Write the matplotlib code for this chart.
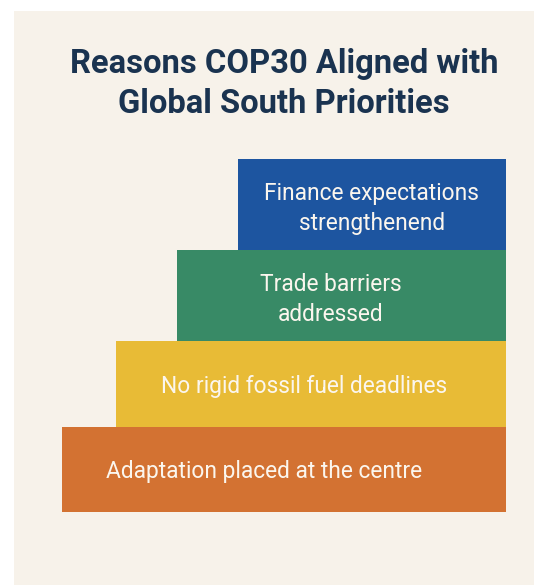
import matplotlib
matplotlib.use("Agg")
import matplotlib.pyplot as plt
from matplotlib.patches import Rectangle

# chart data (bottom step first)
labels = ["Adaptation placed at the centre",
          "No rigid fossil fuel deadlines",
          "Trade barriers\naddressed",
          "Finance expectations\nstrengthenend"]
starts = [0, 12.2, 25.9, 39.6]
ends = [100, 100, 100, 100]
colors = ["#d37232", "#e8bb36", "#388a66", "#1d55a0"]
text_x = [45.6, 54.5, 60.5, 69.8]
row_heights = [85, 86, 91, 91]

title = "Reasons COP30 Aligned with\nGlobal South Priorities"

W, H = 534, 585
fig = plt.figure(figsize=(W / 100, H / 100), dpi=100, facecolor="white")

# beige card behind everything
fig.patches.append(Rectangle((14 / W, 0), 1 - 14 / W, 1 - 11 / H,
                             transform=fig.transFigure, facecolor="#f7f2ea",
                             edgecolor="none", zorder=-5))

ax = fig.add_axes([62 / W, 73 / H, 444 / W, 353 / H])
ax.set_facecolor("none")
ax.set_zorder(2)

widths = [e - s for s, e in zip(starts, ends)]
bottoms = [sum(row_heights[:i]) for i in range(len(row_heights))]
centers = [b + h / 2 for b, h in zip(bottoms, row_heights)]
ax.barh(centers, widths, left=starts, height=row_heights, color=colors,
        edgecolor="none")

for y, lab, tx in zip(centers, labels, text_x):
    shift = 4 if "\n" in lab else 2
    ax.text(tx, y - shift, lab, ha="center", va="center", color="#fbf6ee",
            fontsize=16.4, family="Roboto", linespacing=1.4)

ax.set_xlim(0, 100)
ax.set_ylim(0, sum(row_heights))
ax.axis("off")

fig.text(284 / W, 1 - 84 / H, title, ha="center", va="center",
         fontsize=23.6, fontweight="bold", family="Roboto", color="#1a3350",
         linespacing=1.3, zorder=3)

fig.savefig("out.png", dpi=100, facecolor="white")
